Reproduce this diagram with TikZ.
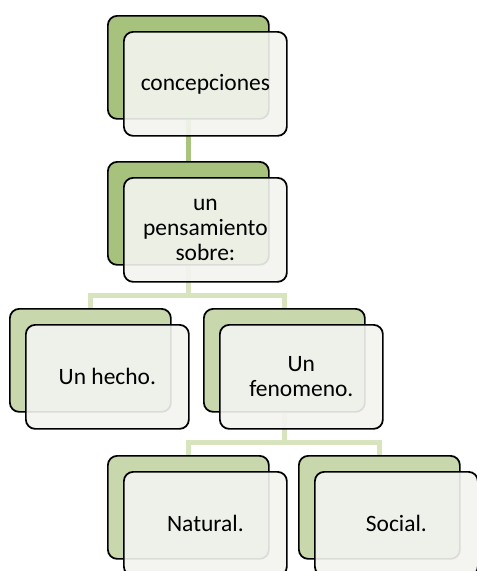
\documentclass[tikz,border=0pt]{standalone}
\usepackage{fontspec}
\setmainfont{Carlito}
\usepackage{xcolor}
\definecolor{grnD}{HTML}{A6C27C}
\definecolor{grnL}{HTML}{C8D7AC}
\definecolor{lnkD}{HTML}{A9C47F}
\definecolor{lnkL}{HTML}{D7E4BD}
\definecolor{paper}{HTML}{F3F4F0}
\tikzset{
  back/.style={draw=black,line width=1.3pt,rounded corners=7pt,
    minimum width=120.75pt,minimum height=77.25pt,anchor=north west,inner sep=0pt},
  front/.style={draw=black,line width=1.3pt,rounded corners=7pt,fill=paper,
    fill opacity=0.9,text opacity=1,minimum width=122.25pt,minimum height=78pt,
    anchor=north west,align=center,inner sep=0pt,
    font=\fontsize{17.6}{18.8}\selectfont},
  link/.style={line width=4pt}
}
\begin{document}
\begin{tikzpicture}[x=0.75pt,y=-0.75pt]
  \useasboundingbox (0,0) rectangle (476,571);
  \foreach \n/\x/\y/\g in {conc/107/15/grnD,pens/107/161/grnD,hecho/9/308/grnL,
      feno/203/308/grnL,nat/107/455/grnL,soc/298/455/grnL}{
    \node[back,fill=\g] (\n-b) at (\x,\y) {};
  }
  \draw[link,lnkD] (conc-b.south) -- (pens-b.north);
  \draw[link,lnkL] (pens-b.south) -- ++(0,30) -| (hecho-b.north);
  \draw[link,lnkL] (pens-b.south) -- ++(0,30) -| (feno-b.north);
  \draw[link,lnkL] (feno-b.south) -- ++(0,30) -| (nat-b.north);
  \draw[link,lnkL] (feno-b.south) -- ++(0,30) -| (soc-b.north);
  \foreach \n/\txt in {conc/concepciones,pens/{un\\pensamiento\\sobre:},
      hecho/Un hecho.,feno/{Un\\fenomeno.},nat/Natural.,soc/Social.}{
    \node[front] (\n) at ([shift={(16,16)}]\n-b.north west) {\txt};
  }
\end{tikzpicture}
\end{document}
